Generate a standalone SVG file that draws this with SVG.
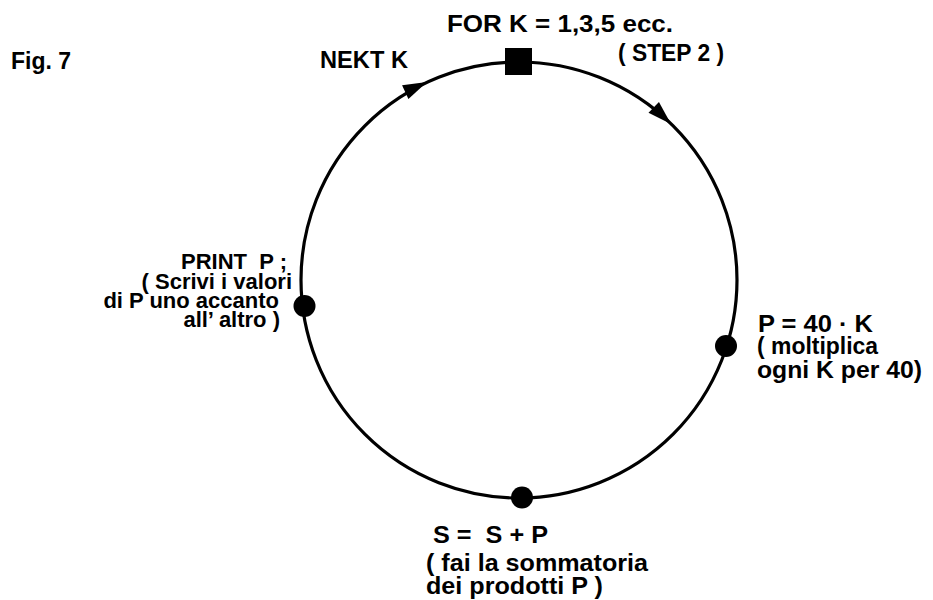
<svg xmlns="http://www.w3.org/2000/svg" xmlns:xlink="http://www.w3.org/1999/xlink" width="933" height="600" viewBox="0 0 933 600">
  <style>
    text { font-family: "Liberation Sans", Arial, sans-serif; font-weight: bold; font-size: 23px; fill: #000; }
    .tight { font-size: 22px; }
    .ring { fill: none; stroke: #000; stroke-width: 3.2; }
    .dot { fill: #000; }
  </style>
  <defs>
    <polygon id="arrowhead" points="0,0 -24,-7.5 -24,7.5" fill="#000"/>
  </defs>
  <rect width="933" height="600" fill="#fff"/>

  <g id="title">
    <text x="11" y="69" textLength="60" lengthAdjust="spacingAndGlyphs">Fig. 7</text>
  </g>

  <g id="connectors">
    <circle class="ring" cx="519" cy="280" r="218"/>
    <use xlink:href="#arrowhead" transform="translate(427,82) rotate(-25)"/>
    <use xlink:href="#arrowhead" transform="translate(671,124) rotate(44)"/>
  </g>

  <g id="node-for">
    <rect x="505" y="48" width="27" height="27" fill="#000"/>
    <text x="447" y="32" textLength="226" lengthAdjust="spacingAndGlyphs">FOR K = 1,3,5 ecc.</text>
    <text x="618" y="61" textLength="106" lengthAdjust="spacingAndGlyphs">( STEP 2 )</text>
  </g>

  <g id="node-next">
    <text x="320" y="68" textLength="88" lengthAdjust="spacingAndGlyphs">NEKT  K</text>
  </g>

  <g id="node-print">
    <circle class="dot" cx="304.5" cy="306" r="11"/>
    <text class="tight" x="287" y="269" text-anchor="end">PRINT&#160; P ;</text>
    <text class="tight" x="292" y="289" text-anchor="end">( Scrivi i valori</text>
    <text class="tight" x="279" y="308" text-anchor="end">di P uno accanto</text>
    <text class="tight" x="280" y="327" text-anchor="end">all’ altro )</text>
  </g>

  <g id="node-p">
    <circle class="dot" cx="726" cy="346" r="11"/>
    <text x="758" y="332" textLength="115" lengthAdjust="spacingAndGlyphs">P = 40 · K</text>
    <text x="757" y="354" textLength="121" lengthAdjust="spacingAndGlyphs">( moltiplica</text>
    <text x="757" y="378" textLength="165" lengthAdjust="spacingAndGlyphs">ogni K per 40)</text>
  </g>

  <g id="node-s">
    <circle class="dot" cx="522" cy="497.5" r="11"/>
    <text x="433" y="543" textLength="115" lengthAdjust="spacingAndGlyphs">S =&#160; S + P</text>
    <text x="426" y="571" textLength="222" lengthAdjust="spacingAndGlyphs">( fai la sommatoria</text>
    <text x="426" y="594" textLength="177" lengthAdjust="spacingAndGlyphs">dei prodotti P )</text>
  </g>
</svg>
